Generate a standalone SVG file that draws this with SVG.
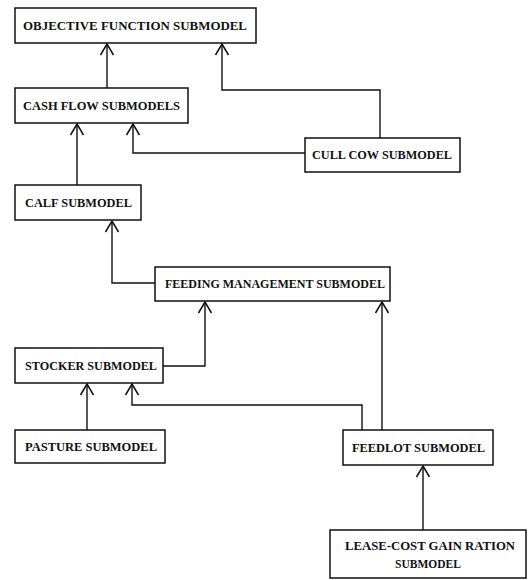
<svg xmlns="http://www.w3.org/2000/svg" width="532" height="580" viewBox="0 0 532 580">
<defs>
<marker id="arr" viewBox="-12 -8 14 16" markerWidth="14" markerHeight="16" refX="0" refY="0" orient="auto" markerUnits="userSpaceOnUse">
<path d="M-11,-6.5 L0,0 L-11,6.5" fill="none" stroke="#111" stroke-width="1.5"/>
</marker>
<style>
.box{fill:#fff;stroke:#111;stroke-width:1.5}
.t{font-family:"Liberation Serif","DejaVu Serif",serif;font-size:13px;font-weight:bold;fill:#111;text-anchor:middle}
.c{fill:none;stroke:#111;stroke-width:1.4;marker-end:url(#arr)}
</style>
</defs>
<rect width="532" height="580" fill="#fff"/>
<g id="connectors">
<path class="c" d="M107,88 V44"/>
<path class="c" d="M380,138 V90 H222 V44"/>
<path class="c" d="M305,153 H133 V124"/>
<path class="c" d="M77,185 V124"/>
<path class="c" d="M155,283 H112 V221"/>
<path class="c" d="M163,366 H205 V302"/>
<path class="c" d="M382,430 V302"/>
<path class="c" d="M362,430 V405 H132 V384"/>
<path class="c" d="M87,430 V384"/>
<path class="c" d="M423,530 V466"/>
</g>
<g id="objective"><rect class="box" x="15" y="8" width="241" height="35"/><text class="t" x="135" y="30" textLength="224" lengthAdjust="spacingAndGlyphs">OBJECTIVE FUNCTION SUBMODEL</text></g>
<g id="cashflow"><rect class="box" x="15" y="88" width="173" height="35"/><text class="t" x="101.5" y="110" textLength="157" lengthAdjust="spacingAndGlyphs">CASH FLOW SUBMODELS</text></g>
<g id="cullcow"><rect class="box" x="305" y="138" width="155" height="34"/><text class="t" x="382" y="159" textLength="140" lengthAdjust="spacingAndGlyphs">CULL COW SUBMODEL</text></g>
<g id="calf"><rect class="box" x="15" y="185" width="126" height="35"/><text class="t" x="78.5" y="207" textLength="107" lengthAdjust="spacingAndGlyphs">CALF SUBMODEL</text></g>
<g id="feeding"><rect class="box" x="155" y="267" width="235" height="34"/><text class="t" x="275" y="288" textLength="220" lengthAdjust="spacingAndGlyphs">FEEDING MANAGEMENT SUBMODEL</text></g>
<g id="stocker"><rect class="box" x="15" y="348" width="148" height="35"/><text class="t" x="91" y="370" textLength="132" lengthAdjust="spacingAndGlyphs">STOCKER SUBMODEL</text></g>
<g id="pasture"><rect class="box" x="15" y="430" width="150" height="33"/><text class="t" x="91" y="451" textLength="132" lengthAdjust="spacingAndGlyphs">PASTURE SUBMODEL</text></g>
<g id="feedlot"><rect class="box" x="343" y="430" width="150" height="35"/><text class="t" x="418.5" y="452" textLength="133" lengthAdjust="spacingAndGlyphs">FEEDLOT SUBMODEL</text></g>
<g id="leasecost"><rect class="box" x="330" y="530" width="196" height="48"/><text class="t" x="430" y="550" textLength="170" lengthAdjust="spacingAndGlyphs">LEASE-COST GAIN RATION</text><text class="t" x="428" y="568" textLength="66" lengthAdjust="spacingAndGlyphs">SUBMODEL</text></g>
</svg>
